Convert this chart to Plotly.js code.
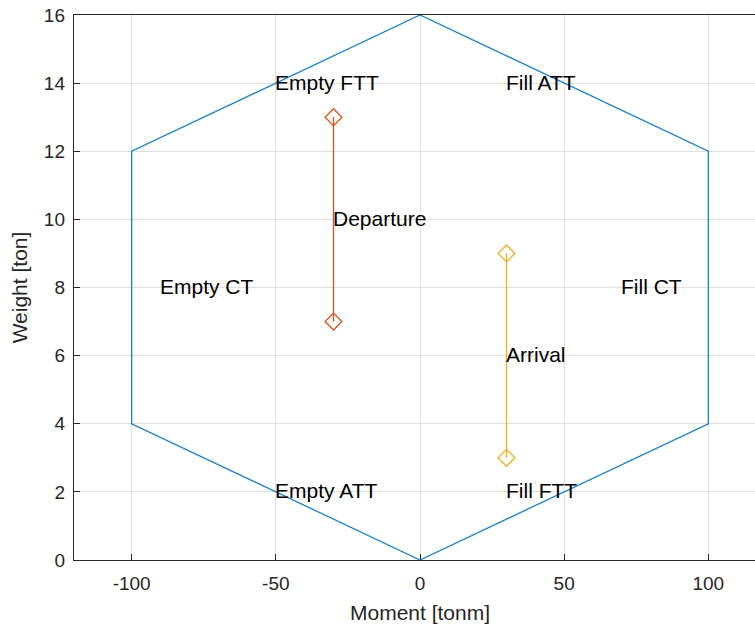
<!DOCTYPE html>
<html>
<head>
<meta charset="utf-8">
<script src="https://cdn.plot.ly/plotly-3.0.1.min.js"></script>
<style>
html,body{margin:0;padding:0;overflow:hidden;background:#fff;}
#chart{width:780px;height:632px;}
</style>
</head>
<body>
<div id="chart"></div>
<script>
// Envelope (hexagon) vertices
const envMoment = [0, 100, 100, 0, -100, -100, 0];
const envWeight = [0, 4, 12, 16, 12, 4, 0];

// Departure condition
const depMoment = [-30, -30];
const depWeight = [7, 13];

// Arrival condition
const arrMoment = [30, 30];
const arrWeight = [3, 9];

// Text labels
const labelText = ["Empty FTT", "Fill ATT", "Empty CT", "Fill CT", "Empty ATT", "Fill FTT", "Departure", "Arrival"];
const labelMoment = [-50, 30, -90, 70, -50, 30, -30, 30];
const labelWeight = [14, 14, 8, 8, 2, 2, 10, 6];

// Ticks
const xTicks = [-100, -50, 0, 50, 100];
const yTicks = [0, 2, 4, 6, 8, 10, 12, 14, 16];

const font = "Liberation Sans, Arial, Helvetica, sans-serif";

const traces = [
  {x: envMoment, y: envWeight, mode: 'lines', line: {color: '#1a80c8', width: 1.3}, hoverinfo: 'skip'},
  {x: depMoment, y: depWeight, mode: 'lines+markers', line: {color: '#D95319', width: 1.3},
   marker: {symbol: 'diamond-open', size: 13, color: '#D95319', line: {width: 1.3}}},
  {x: arrMoment, y: arrWeight, mode: 'lines+markers', line: {color: '#EDB120', width: 1.3},
   marker: {symbol: 'diamond-open', size: 13, color: '#EDB120', line: {width: 1.3}}}
];

const annotations = labelText.map((t, i) => ({
  x: labelMoment[i], y: labelWeight[i], text: t, xref: 'x', yref: 'y',
  xanchor: 'left', yanchor: 'middle', showarrow: false, xshift: -2, yshift: 1,
  borderpad: 0, font: {family: font, size: 21, color: '#000'}
}));

const axisCommon = {
  showline: true, mirror: true, linecolor: '#262626', linewidth: 1.2,
  ticks: 'inside', ticklen: 6, tickcolor: '#262626', tickwidth: 1,
  showgrid: true, gridcolor: '#dfdfdf', gridwidth: 1, zeroline: false,
  tickfont: {family: font, size: 19, color: '#262626'}
};

const layout = {
  width: 780, height: 632,
  margin: {l: 74, r: 14, t: 15, b: 72},
  paper_bgcolor: '#fff', plot_bgcolor: '#fff',
  showlegend: false,
  xaxis: Object.assign({}, axisCommon, {
    range: [-120, 120], tickvals: xTicks, ticktext: xTicks.map(String),
    ticklabelstandoff: 6,
    title: {text: 'Moment [tonm]', font: {family: font, size: 21, color: '#262626'}, standoff: 12}
  }),
  yaxis: Object.assign({}, axisCommon, {
    range: [0, 16], tickvals: yTicks, ticktext: yTicks.map(String),
    ticklabelstandoff: 4,
    title: {text: 'Weight [ton]', font: {family: font, size: 21, color: '#262626'}, standoff: 10}
  }),
  annotations: annotations
};

Plotly.newPlot('chart', traces, layout, {staticPlot: true, displayModeBar: false});
</script>
</body>
</html>
